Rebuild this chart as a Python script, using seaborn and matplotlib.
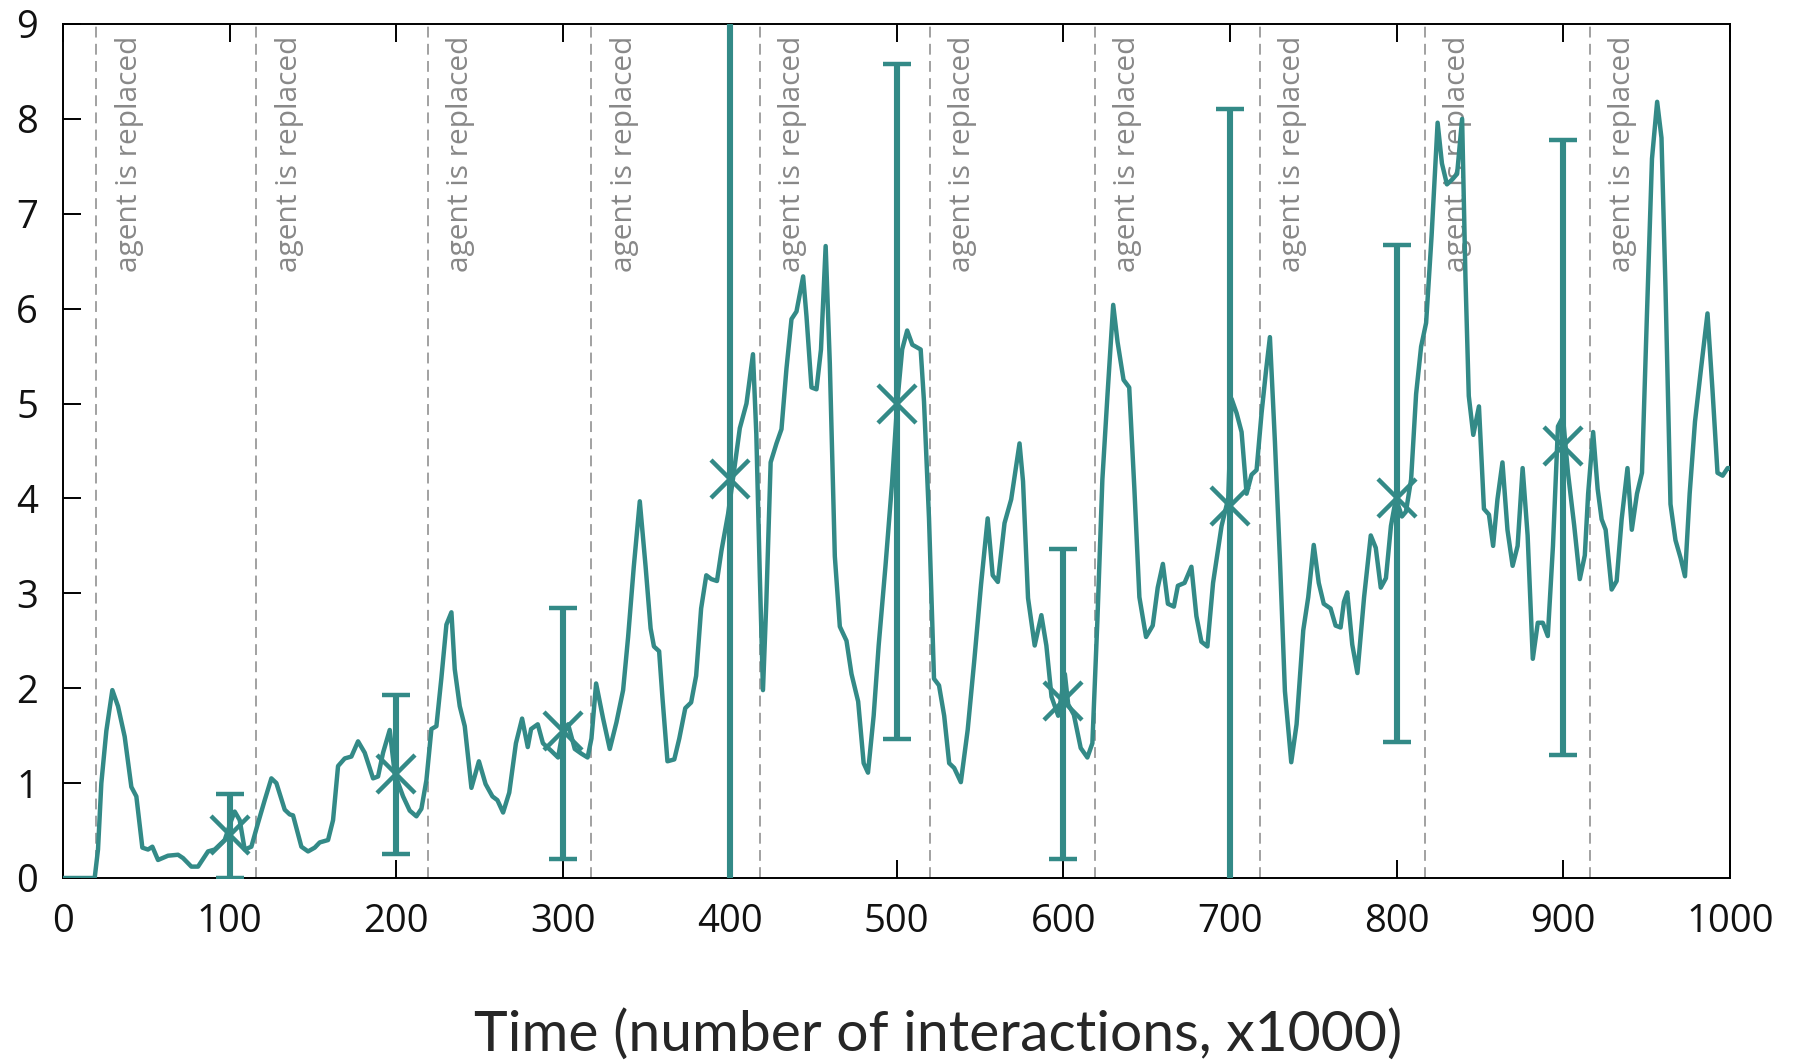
import matplotlib
matplotlib.use("Agg")
import matplotlib.pyplot as plt
import seaborn as sns
import pandas as pd

# ---------------- data ----------------
time_k = [0, 5, 10, 15, 19, 21, 23, 26, 29.6, 33, 37, 41, 44, 47.6, 51, 53.6, 57, 63, 69, 72, 77, 81, 87, 91, 97,
          101, 103, 106, 109, 113, 117, 121, 125, 128, 133, 136, 138, 143, 147, 151, 154, 159, 162, 165, 169, 173,
          177, 181, 186, 189, 192, 196, 199, 204, 208, 212, 215, 218, 221, 224, 227, 230, 233, 235, 238, 241, 245,
          249.5, 253.5, 257.6, 260.6, 264, 267.7, 271.7, 275.4, 278.8, 280.8, 284.8, 287.9, 292.9, 297, 299, 303,
          307, 311, 314.7, 317, 319.8, 324, 328, 332, 336, 339, 342.4, 346, 349.5, 352.5, 354.5, 357.6, 359.6,
          362.6, 366.7, 369.7, 373.3, 376.8, 379.8, 382.8, 385.9, 388.9, 392.3, 395, 399, 402, 406, 410, 413.9,
          415.9, 418, 419.9, 421.9, 424.5, 428, 431, 434, 437, 440, 444, 446, 449, 452, 454.7, 457.5, 460, 463,
          466, 470, 473, 477, 480.3, 482.9, 486.3, 489.3, 493.4, 497.4, 500.4, 503.4, 506.4, 509.5, 514.5, 516.5,
          519.5, 522.5, 525.5, 528.6, 531.6, 534.6, 538.6, 542.7, 546.7, 550.7, 554.7, 557.7, 560.8, 564.8, 568.8,
          573.8, 575.9, 578.9, 582.9, 586.9, 589.9, 593, 597, 601, 603, 606.4, 610.5, 614.5, 617.5, 620.5, 623.5,
          626.6, 630, 632.6, 636.2, 639.6, 642.7, 645.7, 649.7, 653.7, 656.7, 659.8, 662.8, 666.4, 668.8, 672.8,
          676.9, 679.9, 682.9, 686.5, 689.9, 695, 699, 701, 704, 707, 710, 713, 716, 719, 721.7, 724, 727, 730,
          733, 736.8, 740, 744, 747, 750.3, 753.3, 756.3, 760.4, 763.4, 766.4, 768.4, 770.4, 773.4, 776.5, 780.5,
          784.5, 787.5, 790.5, 793.6, 796.6, 799.6, 803.2, 805.6, 808.7, 811.7, 814.7, 817.7, 821, 824.6, 827.2,
          830.2, 833.3, 836.3, 839.3, 841.3, 843.3, 846, 849.4, 852.4, 855.4, 857.9, 860.5, 863.5, 866.5, 869.6,
          872.6, 875.6, 878.6, 881.7, 884.7, 887.7, 890.7, 893.8, 896.8, 899.8, 902.8, 906.5, 909.9, 912.9, 914.9,
          917.9, 920.6, 923, 925.4, 929, 932, 935, 938.5, 941.1, 944.2, 947.2, 950.2, 953.2, 956.3, 958.9, 961.3,
          964.3, 967.3, 970.4, 973, 975.8, 979, 982.5, 986.5, 989.5, 992.5, 995.6, 998.6, 1000]
score = [0, 0, 0, 0, 0, 0.3, 1.0, 1.55, 1.98, 1.81, 1.49, 0.96, 0.86, 0.32, 0.30, 0.33, 0.19, 0.235, 0.245, 0.21,
         0.12, 0.12, 0.28, 0.30, 0.40, 0.61, 0.70, 0.61, 0.30, 0.33, 0.58, 0.82, 1.05, 1.0, 0.72, 0.67, 0.66, 0.33,
         0.28, 0.32, 0.375, 0.40, 0.61, 1.18, 1.26, 1.28, 1.44, 1.32, 1.05, 1.07, 1.32, 1.56, 1.1, 0.86, 0.71, 0.65,
         0.73, 1.03, 1.57, 1.6, 2.11, 2.67, 2.8, 2.2, 1.81, 1.6, 0.95, 1.23, 0.99, 0.86, 0.82, 0.69, 0.9, 1.42,
         1.68, 1.38, 1.57, 1.62, 1.42, 1.34, 1.27, 1.47, 1.62, 1.36, 1.31, 1.27, 1.47, 2.05, 1.68, 1.36, 1.64,
         1.98, 2.54, 3.28, 3.97, 3.28, 2.63, 2.44, 2.39, 1.9, 1.23, 1.25, 1.47, 1.79, 1.85, 2.13, 2.84, 3.19, 3.15,
         3.13, 3.45, 3.84, 4.22, 4.74, 5.0, 5.52, 4.68, 3.19, 1.98, 2.9, 4.38, 4.58, 4.73, 5.37, 5.89, 5.97, 6.34,
         5.92, 5.17, 5.15, 5.57, 6.66, 5.42, 3.39, 2.65, 2.5, 2.15, 1.86, 1.21, 1.11, 1.71, 2.45, 3.29, 4.18, 5.0,
         5.57, 5.77, 5.62, 5.57, 5.02, 3.79, 2.1, 2.03, 1.71, 1.21, 1.16, 1.01, 1.56, 2.3, 3.09, 3.79, 3.19, 3.12,
         3.74, 3.99, 4.58, 4.18, 2.95, 2.45, 2.77, 2.45, 1.91, 1.71, 2.15, 1.83, 1.72, 1.37, 1.27, 1.42, 2.71, 4.2,
         5.1, 6.04, 5.65, 5.25, 5.17, 4.1, 2.96, 2.54, 2.66, 3.06, 3.31, 2.89, 2.86, 3.08, 3.11, 3.28, 2.76, 2.49,
         2.44, 3.11, 3.71, 4.0, 5.05, 4.9, 4.7, 4.05, 4.25, 4.3, 4.9, 5.35, 5.7, 4.6, 3.36, 1.97, 1.22, 1.62, 2.61,
         2.96, 3.51, 3.11, 2.89, 2.84, 2.66, 2.64, 2.91, 3.01, 2.46, 2.16, 2.96, 3.61, 3.48, 3.06, 3.16, 3.71, 4.0,
         3.81, 3.86, 4.2, 5.1, 5.6, 5.85, 6.77, 7.96, 7.53, 7.31, 7.36, 7.42, 8.0, 6.33, 5.08, 4.67, 4.97, 3.89,
         3.83, 3.5, 3.99, 4.38, 3.67, 3.29, 3.5, 4.32, 3.61, 2.31, 2.69, 2.69, 2.55, 3.5, 4.76, 4.86, 4.27, 3.72,
         3.15, 3.4, 4.05, 4.7, 4.1, 3.78, 3.67, 3.04, 3.13, 3.78, 4.32, 3.67, 4.05, 4.27, 5.95, 7.58, 8.18, 7.8,
         6.22, 3.94, 3.56, 3.37, 3.18, 4.05, 4.81, 5.35, 5.95, 5.14, 4.27, 4.24, 4.32, 4.32]

eb_x = [100, 200, 300, 400, 500, 600, 700, 800, 900]
eb_mean = [0.45, 1.1, 1.55, 4.2, 5.0, 1.87, 3.92, 4.0, 4.55]
eb_low = [0.0, 0.25, 0.2, -0.5, 1.47, 0.2, -0.5, 1.43, 1.3]
eb_high = [0.88, 1.93, 2.85, 9.8, 8.58, 3.47, 8.1, 6.67, 7.78]

replace_x = [20, 116, 219, 317, 418, 520, 619, 718, 817, 916]
replace_label = "agent is replaced"

x_ticks = [0, 100, 200, 300, 400, 500, 600, 700, 800, 900, 1000]
y_ticks = [0, 1, 2, 3, 4, 5, 6, 7, 8, 9]
x_label = "Time (number of interactions, x1000)"

# ---------------- plot ----------------
sns.set_theme(style="white")
plt.rcParams['font.family'] = ['Open Sans', 'DejaVu Sans']

TEAL = "#338a87"
fig = plt.figure(figsize=(17.93, 10.64), dpi=100)
ax = fig.add_axes([63 / 1793, 186 / 1064, 1667 / 1793, 854 / 1064])

for xv in replace_x:
    ax.axvline(xv, color="#9a9a9a", lw=1.3, dashes=(6, 3.5), zorder=1)
    ax.text(xv + 11, 8.88, replace_label, rotation=90, ha="left", va="top",
            color="#888888", fontsize=21.5, family=["Open Sans", "DejaVu Sans"], zorder=2)

df = pd.DataFrame({"time": time_k, "score": score})
sns.lineplot(data=df, x="time", y="score", ax=ax, color=TEAL, lw=3.2, zorder=3,
             estimator=None, sort=False).lines[0].set_clip_on(False)

yerr = [[m - lo for m, lo in zip(eb_mean, eb_low)], [hi - m for m, hi in zip(eb_mean, eb_high)]]
ax.errorbar(eb_x, eb_mean, yerr=yerr, fmt="x", color=TEAL, ecolor=TEAL, elinewidth=4.4,
            capsize=10, capthick=4.4, markersize=28, markeredgewidth=3.2, zorder=4)

ax.set_xlim(0, 1000)
ax.set_ylim(0, 9)
ax.set_xticks(x_ticks)
ax.set_yticks(y_ticks)
ax.set_xlabel(x_label, fontsize=41, family=["Lato", "DejaVu Sans"])
ax.xaxis.set_label_coords(0.525, -0.184)
ax.xaxis.label.set_va("center")
ax.set_ylabel("")

for s in ax.spines.values():
    s.set_visible(True)
    s.set_color("black")
    s.set_linewidth(1.4)

ax.tick_params(axis="both", direction="in", length=13, width=1.4, color="black",
               labelsize=27.5, labelcolor="#111111", pad=18)
ax.tick_params(axis="x", top=True, bottom=True)
ax.tick_params(axis="y", left=True, right=False)
ax.grid(False)

fig.savefig("out.png", dpi=100)
